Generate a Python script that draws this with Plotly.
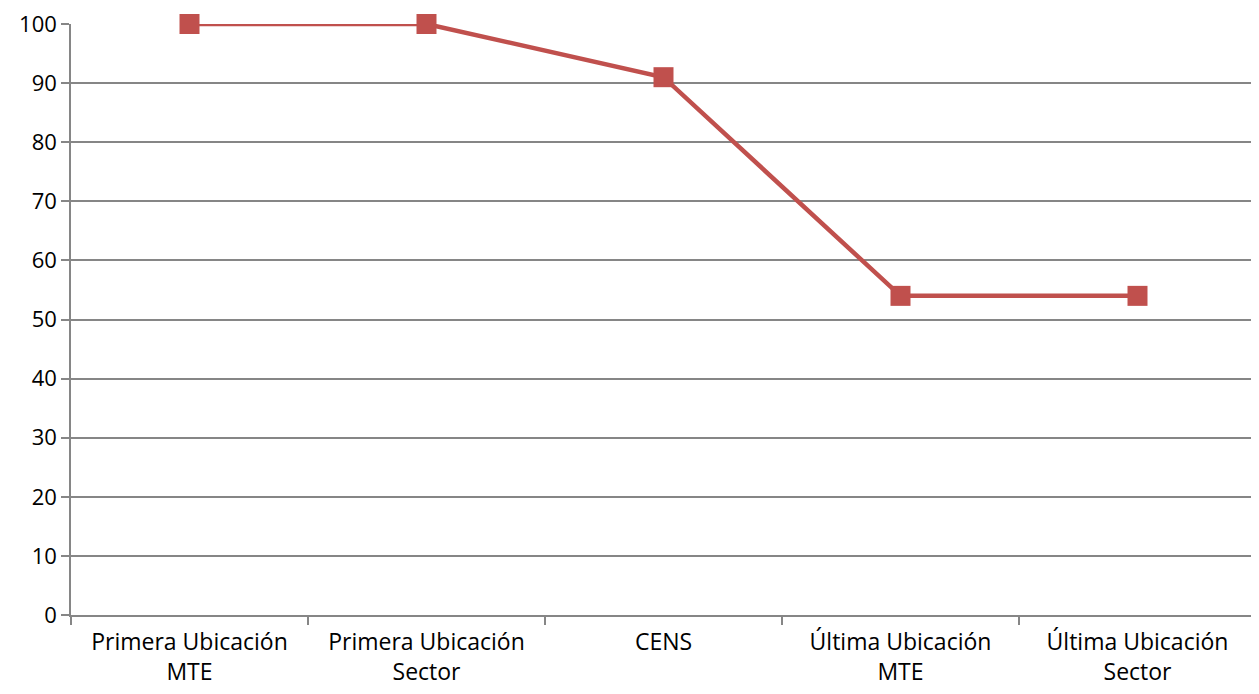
import plotly.graph_objects as go

categories = ["Primera Ubicación<br>MTE", "Primera Ubicación<br>Sector", "CENS",
              "Última Ubicación<br>MTE", "Última Ubicación<br>Sector"]
values = [100, 100, 91, 54, 54]
y_ticks = [0, 10, 20, 30, 40, 50, 60, 70, 80, 90, 100]

fig = go.Figure()
fig.add_trace(go.Scatter(
    x=categories, y=values, mode="lines+markers",
    line=dict(color="#C0504D", width=4.5),
    marker=dict(symbol="square", size=20, color="#C0504D"),
    cliponaxis=False,
))

font = dict(family="Open Sans, Calibri, sans-serif", size=23, color="#000000")
yfont = dict(family="Open Sans, Calibri, sans-serif", size=22, color="#000000")
# page body has an 8px default margin, so the figure is shifted by 8px
fig.update_layout(
    width=1251, height=686,
    margin=dict(l=63, r=3, t=16, b=79, autoexpand=False),
    paper_bgcolor="white", plot_bgcolor="white",
    showlegend=False,
    font=font,
    xaxis=dict(
        type="category", tickson="boundaries", ticks="outside", ticklen=8,
        tickcolor="#868686", tickwidth=1.5, showline=True, linecolor="#868686",
        linewidth=1.5, showgrid=False, tickfont=font, range=[-0.5, 4.5],
        automargin=False, ticklabelstandoff=6,
    ),
    yaxis=dict(
        range=[0, 100], tickvals=y_ticks, ticks="outside", ticklen=8,
        tickcolor="#868686", tickwidth=1.5, showline=True, linecolor="#868686",
        linewidth=1.5, showgrid=True, gridcolor="#868686", gridwidth=1.5,
        zeroline=False, tickfont=yfont, automargin=False,
        ticklabeloverflow="allow",
    ),
)
fig.write_html("out.html")
